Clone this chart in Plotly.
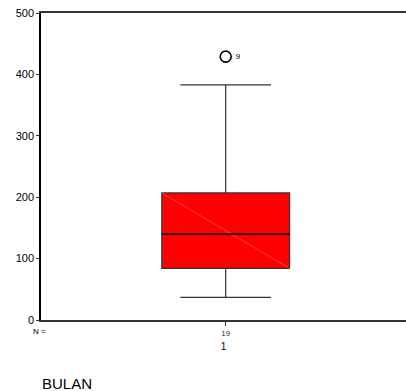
import plotly.graph_objects as go

# Data
categories = ["1"]
n_counts = ["19"]
q1_vals = [84]
median_vals = [140]
q3_vals = [207]
lower_whisker = [37]
upper_whisker = [383]
outlier_vals = [429]
outlier_labels = ["9"]

box_pos = [1]
box_w = 0.70

fig = go.Figure()

fig.add_trace(go.Box(
    x=box_pos, q1=q1_vals, median=median_vals, q3=q3_vals,
    lowerfence=lower_whisker, upperfence=upper_whisker,
    width=box_w, whiskerwidth=0.71,
    fillcolor="#ff0000", line=dict(color="#333333", width=1.2),
    boxpoints=False, showlegend=False, hoverinfo="skip",
))

# faint diagonal artefact across the box
fig.add_trace(go.Scatter(
    x=[box_pos[0] - box_w / 2, box_pos[0] + box_w / 2],
    y=[q3_vals[0], q1_vals[0]],
    mode="lines", line=dict(color="#ff7070", width=0.6),
    showlegend=False, hoverinfo="skip",
))
# median redraw in black
fig.add_trace(go.Scatter(
    x=[box_pos[0] - box_w / 2, box_pos[0] + box_w / 2],
    y=[median_vals[0], median_vals[0]],
    mode="lines", line=dict(color="#000000", width=1.2),
    showlegend=False, hoverinfo="skip",
))

fig.add_trace(go.Scatter(
    x=box_pos, y=outlier_vals, mode="markers+text",
    marker=dict(symbol="circle-open", size=11, color="#000000", line=dict(width=1.6, color="#000000")),
    text=[" " + t for t in outlier_labels], textposition="middle right",
    textfont=dict(family="Liberation Sans, Arial", size=8, color="#000000"),
    showlegend=False, hoverinfo="skip",
))

pw, ph = 406 - 41, 391 - 13 - 71


def px_to_paper(px, py):
    return (px - 41) / pw, (391 - 71 - py) / ph


nx, ny = px_to_paper(31, 331)
bx, by = px_to_paper(67, 383)

fig.update_layout(
    width=406, height=391,
    margin=dict(l=41, r=0, t=13, b=71),
    paper_bgcolor="white", plot_bgcolor="white",
    font=dict(family="Liberation Sans, Arial", color="#000000"),
    xaxis=dict(
        range=[-0.012, 1.988], tickvals=box_pos, ticktext=n_counts,
        ticks="outside", ticklen=4, tickcolor="#333333",
        tickfont=dict(size=8, color="#333333"),
        showline=True, linecolor="#333333", linewidth=2, mirror=True,
        showgrid=False, zeroline=False,
        title=dict(text=categories[0], font=dict(size=10), standoff=6),
    ),
    yaxis=dict(
        range=[0, 500], tickvals=[0, 100, 200, 300, 400, 500],
        ticks="outside", ticklen=3, tickcolor="#333333",
        tickfont=dict(size=11, color="#000000"),
        showline=True, linecolor="#000000", linewidth=1.6,
        showgrid=False, zeroline=False,
    ),
    annotations=[
        dict(text="N =", x=nx, y=ny, xref="paper", yref="paper", showarrow=False,
             font=dict(size=8), xanchor="left", yanchor="middle"),
        dict(text="BULAN", x=bx, y=by, xref="paper", yref="paper", showarrow=False,
             font=dict(size=15), xanchor="center", yanchor="middle"),
    ],
)

fig.write_html("out.html")
